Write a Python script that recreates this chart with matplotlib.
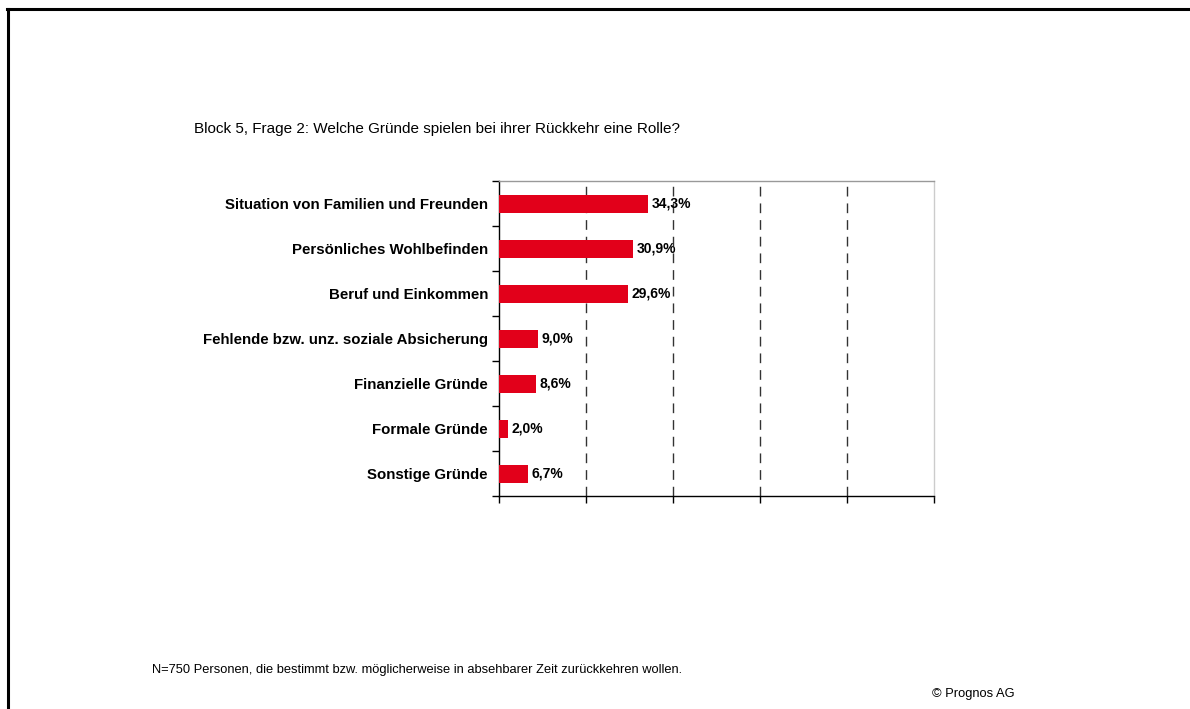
import matplotlib

matplotlib.use("Agg")
import matplotlib.pyplot as plt
from matplotlib.lines import Line2D

plt.rcParams["font.family"] = ["Liberation Sans", "DejaVu Sans"]

# data
categories = [
    "Situation von Familien und Freunden",
    "Persönliches Wohlbefinden",
    "Beruf und Einkommen",
    "Fehlende bzw. unz. soziale Absicherung",
    "Finanzielle Gründe",
    "Formale Gründe",
    "Sonstige Gründe",
]
values = [34.3, 30.9, 29.6, 9.0, 8.6, 2.0, 6.7]
x_ticks = [0, 20, 40, 60, 80, 100]

title = "Block 5, Frage 2: Welche Gründe spielen bei ihrer Rückkehr eine Rolle?"
note = "N=750 Personen, die bestimmt bzw. möglicherweise in absehbarer Zeit zurückkehren wollen."
copyright_text = "© Prognos AG"

RED = "#E2001A"

fig = plt.figure(figsize=(11.9, 7.09), dpi=100)
ax = fig.add_axes([499 / 1190, 1 - 496 / 709, 435 / 1190, 315 / 709])

ypos = list(range(len(categories)))
ax.barh(ypos, values, height=0.4, color=RED, zorder=3)
for y, v in zip(ypos, values):
    ax.text(v + 0.8, y, f"{v:.1f}".replace(".", ",") + "%", va="center", ha="left",
            fontsize=10, fontweight="bold", zorder=4)

ax.set_xlim(0, 100)
ax.set_ylim(len(categories) - 0.5, -0.5)

ax.set_xticks(x_ticks)
ax.set_xticklabels([])
ax.tick_params(axis="x", direction="out", length=5, width=1, color="black")

ax.set_yticks(ypos)
ax.set_yticklabels(categories, fontsize=10.8, fontweight="bold")
ax.tick_params(axis="y", which="major", length=0, pad=8)
ax.set_yticks([y - 0.5 for y in ypos] + [len(categories) - 0.5], minor=True)
ax.tick_params(axis="y", which="minor", direction="out", length=5, width=1)

for gx in x_ticks[1:-1]:
    ax.axvline(gx, color="#333333", linestyle=(0, (7, 5)), linewidth=1, zorder=1)

ax.spines["left"].set_color("black")
ax.spines["bottom"].set_color("black")
ax.spines["top"].set_color("#999999")
ax.spines["right"].set_color("#cccccc")
for s in ax.spines.values():
    s.set_linewidth(1)

fig.text(194 / 1190, 1 - 129 / 709, title, fontsize=11, va="center", ha="left")
fig.text(152 / 1190, 1 - 670 / 709, note, fontsize=9.3, va="center", ha="left")
fig.text(932 / 1190, 1 - 694 / 709, copyright_text, fontsize=9.3, va="center", ha="left")

# page frame (left and top edges)
fig.add_artist(Line2D([7.5 / 1190, 7.5 / 1190], [0, 1 - 8.5 / 709], color="black",
                      linewidth=2.2, transform=fig.transFigure))
fig.add_artist(Line2D([6.5 / 1190, 1], [1 - 8.5 / 709, 1 - 8.5 / 709], color="black",
                      linewidth=2.2, transform=fig.transFigure))

fig.savefig("out.png", dpi=100)
